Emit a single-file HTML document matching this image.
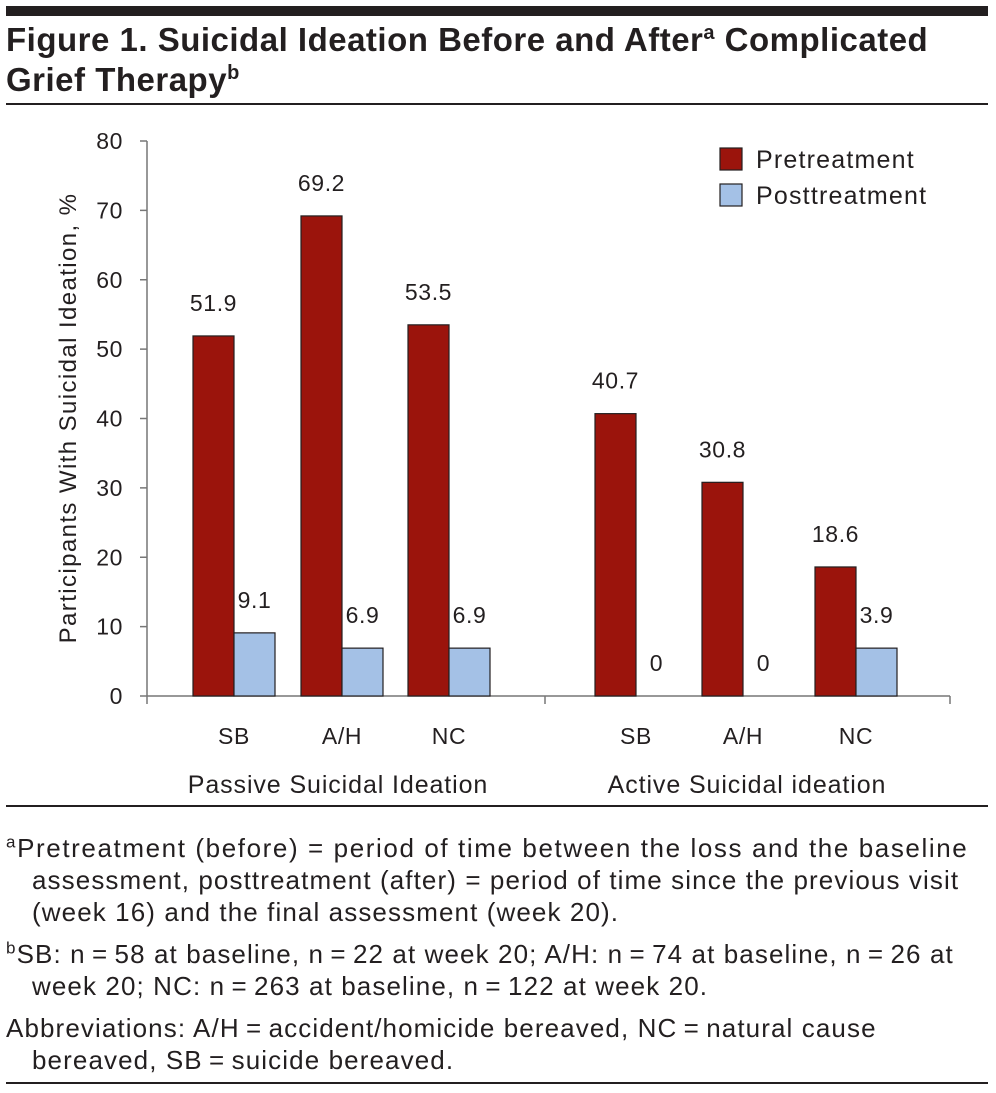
<!DOCTYPE html>
<html><head><meta charset="utf-8"><style>
body{margin:0;background:#fff;width:996px;height:1093px;overflow:hidden;font-family:"Liberation Sans",sans-serif;color:#231f20;position:relative}
.t{position:absolute;white-space:nowrap}
</style></head><body>
<div style="position:absolute;left:6px;top:6px;width:982px;height:10px;background:#231f20"></div>
<div class="t" style="left:6px;top:20px;font-size:33px;font-weight:bold;line-height:40px;letter-spacing:0.5px">Figure 1. Suicidal Ideation Before and After<sup style="font-size:20px;line-height:0">a</sup> Complicated<br>Grief Therapy<sup style="font-size:20px;line-height:0">b</sup></div>
<div style="position:absolute;left:6px;top:103px;width:982px;height:2px;background:#231f20"></div>
<svg width="996" height="810" style="position:absolute;left:0;top:0" id="chart"></svg>
<div style="position:absolute;left:6px;top:805px;width:982px;height:2px;background:#231f20"></div>
<div class="t" style="left:6px;top:832px;font-size:26px;line-height:32px;letter-spacing:1.1px">
<div style="letter-spacing:1.6px"><sup style="font-size:17px;line-height:0">a</sup>Pretreatment (before) = period of time between the loss and the baseline</div>
<div style="padding-left:26px">assessment, posttreatment (after) = period of time since the previous visit</div>
<div style="padding-left:26px">(week 16) and the final assessment (week 20).</div>
<div style="margin-top:10px"><sup style="font-size:17px;line-height:0">b</sup>SB: n&#8201;=&#8201;58 at baseline, n&#8201;=&#8201;22 at week 20; A/H: n&#8201;=&#8201;74 at baseline, n&#8201;=&#8201;26 at</div>
<div style="padding-left:26px">week 20; NC: n&#8201;=&#8201;263 at baseline, n&#8201;=&#8201;122 at week 20.</div>
<div style="margin-top:10px">Abbreviations: A/H&#8201;=&#8201;accident/homicide bereaved, NC&#8201;=&#8201;natural cause</div>
<div style="padding-left:26px">bereaved, SB&#8201;=&#8201;suicide bereaved.</div>
</div>
<div style="position:absolute;left:6px;top:1082px;width:982px;height:2px;background:#231f20"></div>
<script>
const categories=["SB","A/H","NC","SB","A/H","NC"];
const groups=["Passive Suicidal Ideation","Active Suicidal ideation"];
const preValues=[51.9,69.2,53.5,40.7,30.8,18.6];
const postValues=[9.1,6.9,6.9,0,0,6.9];
const preLabels=["51.9","69.2","53.5","40.7","30.8","18.6"];
const postLabels=["9.1","6.9","6.9","0","0","3.9"];
const yTicks=[0,10,20,30,40,50,60,70,80];
const NS="http://www.w3.org/2000/svg";
const svg=document.getElementById('chart');
const y0=696,ppu=(696-141)/80;
const Y=v=>y0-v*ppu;
const catX=[234,342,449,636,743,856];
const bw=41;
function el(tag,attrs,txt){const e=document.createElementNS(NS,tag);for(const k in attrs)e.setAttribute(k,attrs[k]);if(txt!==undefined)e.textContent=txt;svg.appendChild(e);return e;}
const font='font-family:"Liberation Sans",sans-serif;fill:#231f20;letter-spacing:0.6px';
let a=el('line',{x1:147,y1:141,x2:147,y2:y0,stroke:'#777','stroke-width':1.5});

a=el('line',{x1:147,y1:y0,x2:950,y2:y0,stroke:'#777','stroke-width':1.5});

yTicks.forEach(v=>{
 let t=el('line',{x1:140,x2:147,y1:Y(v),y2:Y(v),stroke:'#777','stroke-width':1.5});
 
 let l=el('text',{x:123,y:Y(v)+8,'text-anchor':'end','font-size':23,style:font},v);
 
});
[147,545,950].forEach(x=>{let t=el('line',{x1:x,x2:x,y1:y0,y2:y0+8,stroke:'#777','stroke-width':1.5});
 });
let yt=el('text',{x:0,y:0,'text-anchor':'middle','font-size':24,style:font+';letter-spacing:1.4px',transform:'translate(76,418) rotate(-90)'},'Participants With Suicidal Ideation, %');

categories.forEach((c,i)=>{
 const cx=catX[i];
 let b=el('rect',{x:cx-bw,y:Y(preValues[i]),width:bw,height:preValues[i]*ppu,fill:'#9b140c',stroke:'#231f20','stroke-width':1.2});
 
 if(postValues[i]>0){let p=el('rect',{x:cx,y:Y(postValues[i]),width:bw,height:postValues[i]*ppu,fill:'#a4c1e6',stroke:'#231f20','stroke-width':1.2});
 }
 let l=el('text',{x:cx-bw/2,y:Y(preValues[i])-25,'text-anchor':'middle','font-size':23,style:font},preLabels[i]);
 
 l=el('text',{x:cx+bw/2,y:Y(postValues[i])-25,'text-anchor':'middle','font-size':23,style:font},postLabels[i]);
 
 l=el('text',{x:cx,y:744,'text-anchor':'middle','font-size':23,style:font},c);
 
});
[[338,groups[0]],[747,groups[1]]].forEach(g=>{let l=el('text',{x:g[0],y:793,'text-anchor':'middle','font-size':25,style:font+';letter-spacing:0.9px'},g[1]);
 });
[['Pretreatment','#9b140c',148],['Posttreatment','#a4c1e6',184]].forEach(d=>{
 let r=el('rect',{x:720,y:d[2],width:22,height:22,fill:d[1],stroke:'#231f20','stroke-width':1.2});
 
 let t=el('text',{x:756,y:d[2]+20,'font-size':25,style:font+';letter-spacing:1.2px'},d[0]);
 
});
</script>
</body></html>
